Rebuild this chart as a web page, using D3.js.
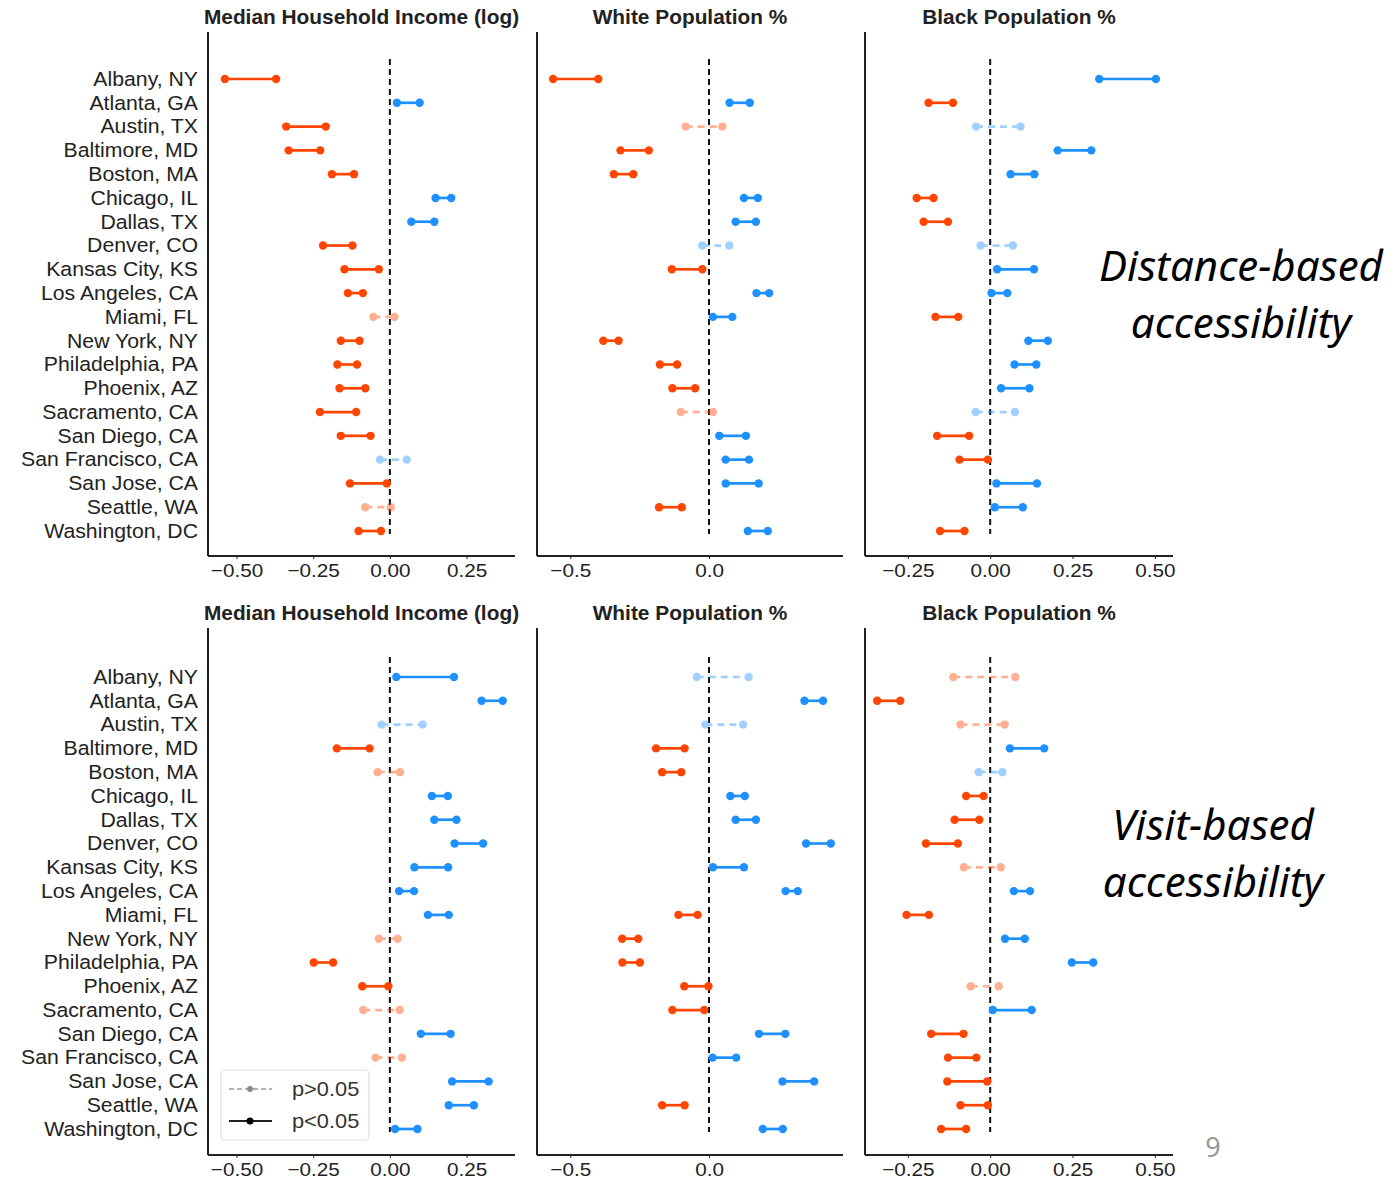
<!DOCTYPE html>
<html>
<head>
<meta charset="utf-8">
<script src="https://d3js.org/d3.v7.min.js"></script>
<style>
body { margin: 0; background: #fff; }
text { font-family: "Liberation Sans", Arial, sans-serif; }
</style>
</head>
<body>
<script>
// cities, top to bottom
var cities = ["Albany, NY", "Atlanta, GA", "Austin, TX", "Baltimore, MD", "Boston, MA",
  "Chicago, IL", "Dallas, TX", "Denver, CO", "Kansas City, KS", "Los Angeles, CA",
  "Miami, FL", "New York, NY", "Philadelphia, PA", "Phoenix, AZ", "Sacramento, CA",
  "San Diego, CA", "San Francisco, CA", "San Jose, CA", "Seattle, WA", "Washington, DC"];

var panelTitles = ["Median Household Income (log)", "White Population %", "Black Population %"];

// distance-based accessibility: interval low / high, significance (1 = p<0.05)
var distIncomeLo = [-0.538, 0.023, -0.338, -0.330, -0.189, 0.149, 0.070, -0.218, -0.148, -0.137, -0.054, -0.160, -0.171, -0.164, -0.228, -0.160, -0.032, -0.130, -0.080, -0.102];
var distIncomeHi = [-0.371, 0.097, -0.209, -0.227, -0.117, 0.200, 0.145, -0.122, -0.036, -0.088, 0.015, -0.099, -0.107, -0.080, -0.110, -0.063, 0.055, -0.010, 0.003, -0.029];
var distIncomeSig = [1,1,1,1,1,1,1,1,1,1,0,1,1,1,1,1,0,1,0,1];

var distWhiteLo = [-0.562, 0.074, -0.084, -0.319, -0.343, 0.126, 0.096, -0.024, -0.134, 0.171, 0.014, -0.381, -0.177, -0.132, -0.102, 0.037, 0.060, 0.060, -0.180, 0.140];
var distWhiteHi = [-0.399, 0.147, 0.048, -0.217, -0.273, 0.176, 0.169, 0.073, -0.024, 0.217, 0.084, -0.326, -0.115, -0.050, 0.014, 0.133, 0.144, 0.179, -0.098, 0.212];
var distWhiteSig = [1,1,0,1,1,1,1,0,1,1,1,1,1,1,0,1,1,1,1,1];

var distBlackLo = [0.331, -0.187, -0.043, 0.205, 0.062, -0.223, -0.202, -0.029, 0.021, 0.004, -0.166, 0.116, 0.074, 0.033, -0.044, -0.161, -0.093, 0.019, 0.014, -0.152];
var distBlackHi = [0.503, -0.113, 0.092, 0.307, 0.134, -0.172, -0.128, 0.069, 0.133, 0.052, -0.097, 0.175, 0.140, 0.119, 0.075, -0.064, -0.007, 0.142, 0.099, -0.078];
var distBlackSig = [1,1,0,1,1,1,1,0,1,1,1,1,1,1,0,1,1,1,1,1];

// visit-based accessibility
var visitIncomeLo = [0.021, 0.299, -0.027, -0.173, -0.040, 0.137, 0.145, 0.211, 0.080, 0.030, 0.124, -0.036, -0.248, -0.090, -0.087, 0.101, -0.047, 0.203, 0.192, 0.017];
var visitIncomeHi = [0.209, 0.368, 0.107, -0.066, 0.033, 0.189, 0.217, 0.304, 0.190, 0.079, 0.192, 0.025, -0.185, -0.005, 0.032, 0.198, 0.039, 0.322, 0.274, 0.090];
var visitIncomeSig = [1,1,0,1,0,1,1,1,1,1,1,0,1,1,0,1,0,1,1,1];

var visitWhiteLo = [-0.044, 0.344, -0.013, -0.191, -0.169, 0.077, 0.096, 0.350, 0.014, 0.276, -0.110, -0.313, -0.312, -0.089, -0.132, 0.180, 0.013, 0.265, -0.169, 0.194];
var visitWhiteHi = [0.143, 0.411, 0.123, -0.088, -0.100, 0.129, 0.169, 0.439, 0.126, 0.320, -0.041, -0.255, -0.249, -0.002, -0.017, 0.275, 0.098, 0.379, -0.088, 0.266];
var visitWhiteSig = [0,1,0,1,1,1,1,1,1,1,1,1,1,1,1,1,1,1,1,1];

var visitBlackLo = [-0.112, -0.343, -0.090, 0.060, -0.035, -0.073, -0.108, -0.195, -0.080, 0.072, -0.254, 0.045, 0.248, -0.059, 0.008, -0.179, -0.128, -0.130, -0.090, -0.149];
var visitBlackHi = [0.076, -0.273, 0.044, 0.164, 0.037, -0.020, -0.033, -0.098, 0.032, 0.121, -0.186, 0.105, 0.313, 0.026, 0.126, -0.081, -0.042, -0.009, -0.007, -0.073];
var visitBlackSig = [0,1,0,1,0,1,1,1,0,1,1,1,1,0,1,1,1,1,1,1];

// axis ticks per column
var ticksIncome = [-0.50, -0.25, 0.00, 0.25];
var ticksWhite = [-0.5, 0.0];
var ticksBlack = [-0.25, 0.00, 0.25, 0.50];

var width = 1399, height = 1181;
var red = "#ff4500", blue = "#1e90ff";
var sx = 1.09; // the slide stretches the figure a bit sideways

var svg = d3.select("body").append("svg")
  .attr("width", width)
  .attr("height", height);

// text placed with a horizontal stretch
function stext(parent, x, y, s) {
  return parent.append("text")
    .attr("transform", "translate(" + x + "," + y + ") scale(" + s + ",1)");
}

// column layout (x pixels) and value domains
var cols = [
  { x0: 208, x1: 515, domain: [-0.593, 0.408], ticks: ticksIncome, fmt: d3.format(".2f") },
  { x0: 537, x1: 843, domain: [-0.62, 0.483], ticks: ticksWhite, fmt: d3.format(".1f") },
  { x0: 865, x1: 1173, domain: [-0.38, 0.555], ticks: ticksBlack, fmt: d3.format(".2f") }
];
var rows = [
  { top: 32, bottom: 556, first: 79, last: 531,
    data: [[distIncomeLo, distIncomeHi, distIncomeSig], [distWhiteLo, distWhiteHi, distWhiteSig], [distBlackLo, distBlackHi, distBlackSig]] },
  { top: 628, bottom: 1155, first: 677, last: 1129,
    data: [[visitIncomeLo, visitIncomeHi, visitIncomeSig], [visitWhiteLo, visitWhiteHi, visitWhiteSig], [visitBlackLo, visitBlackHi, visitBlackSig]] }
];

rows.forEach(function(r) {
  var y = d3.scalePoint().domain(cities).range([r.first, r.last]);

  cols.forEach(function(c, ci) {
    var x = d3.scaleLinear().domain(c.domain).range([c.x0, c.x1]);
    var g = svg.append("g");
    var lo = r.data[ci][0], hi = r.data[ci][1], sig = r.data[ci][2];

    // title
    stext(g, (c.x0 + c.x1) / 2, r.top - 8, 1.07)
      .attr("text-anchor", "middle")
      .attr("font-size", 19.5)
      .attr("font-weight", "bold")
      .attr("fill", "#222")
      .text(panelTitles[ci]);

    // x axis
    var ax = g.append("g")
      .attr("transform", "translate(0," + r.bottom + ")")
      .call(d3.axisBottom(x).tickValues(c.ticks).tickFormat(c.fmt).tickSize(3).tickPadding(5));
    ax.select(".domain").remove();
    ax.selectAll("text").attr("font-size", 19).attr("fill", "#222")
      .attr("transform", "scale(" + sx + ",1)")
      .style("font-family", "'Liberation Sans', Arial, sans-serif");
    ax.selectAll("line").attr("stroke", "#222");

    // spines
    g.append("line").attr("x1", c.x0).attr("x2", c.x0).attr("y1", r.top).attr("y2", r.bottom)
      .attr("stroke", "#222").attr("stroke-width", 2);
    g.append("line").attr("x1", c.x0).attr("x2", c.x1).attr("y1", r.bottom).attr("y2", r.bottom)
      .attr("stroke", "#222").attr("stroke-width", 2);

    // zero line
    g.append("line")
      .attr("x1", x(0)).attr("x2", x(0))
      .attr("y1", r.first - 20).attr("y2", r.last + 3)
      .attr("stroke", "#111").attr("stroke-width", 2)
      .attr("stroke-dasharray", "6,4");

    // intervals
    var items = cities.map(function(name, i) {
      return { name: name, lo: lo[i], hi: hi[i], sig: sig[i] };
    });
    var seg = g.selectAll("g.seg").data(items).enter().append("g")
      .attr("class", "seg")
      .attr("opacity", function(d) { return d.sig ? 1 : 0.42; });
    function col(d) { return (d.lo + d.hi) / 2 < 0 ? red : blue; }
    seg.append("line")
      .attr("x1", function(d) { return x(d.lo); })
      .attr("x2", function(d) { return x(d.hi); })
      .attr("y1", function(d) { return y(d.name); })
      .attr("y2", function(d) { return y(d.name); })
      .attr("stroke", col)
      .attr("stroke-width", 2.7)
      .attr("stroke-dasharray", function(d) { return d.sig ? null : "7,5"; });
    seg.selectAll("circle")
      .data(function(d) { return [[d.lo, d], [d.hi, d]]; })
      .enter().append("circle")
      .attr("cx", function(p) { return x(p[0]); })
      .attr("cy", function(p) { return y(p[1].name); })
      .attr("r", 4.2)
      .attr("fill", function(p) { return col(p[1]); });

    // city labels on first column
    if (ci === 0) {
      cities.forEach(function(name) {
        stext(g, c.x0 - 10, y(name), sx)
          .attr("dy", "0.35em")
          .attr("text-anchor", "end")
          .attr("font-size", 19.5)
          .attr("fill", "#222")
          .text(name);
      });
    }
  });
});

// legend
var lg = svg.append("g");
lg.append("rect").attr("x", 221).attr("y", 1070).attr("width", 148).attr("height", 70)
  .attr("rx", 4).attr("fill", "#fff").attr("stroke", "#ddd").attr("stroke-width", 1.2);
lg.append("line").attr("x1", 229).attr("x2", 272).attr("y1", 1089).attr("y2", 1089)
  .attr("stroke", "#999").attr("stroke-width", 1.5).attr("stroke-dasharray", "5,3");
lg.append("circle").attr("cx", 250).attr("cy", 1089).attr("r", 3).attr("fill", "#888");
stext(lg, 292, 1089, sx).attr("dy", "0.35em")
  .attr("font-size", 20).attr("fill", "#333").text("p>0.05");
lg.append("line").attr("x1", 229).attr("x2", 272).attr("y1", 1121).attr("y2", 1121)
  .attr("stroke", "#222").attr("stroke-width", 2);
lg.append("circle").attr("cx", 250).attr("cy", 1121).attr("r", 3.5).attr("fill", "#000");
stext(lg, 292, 1121, sx).attr("dy", "0.35em")
  .attr("font-size", 20).attr("fill", "#333").text("p<0.05");

// side annotations
function note(lines, cx, y0) {
  lines.forEach(function(t, i) {
    svg.append("text")
      .attr("x", cx).attr("y", y0 + i * 57)
      .attr("text-anchor", "middle")
      .attr("font-size", 42)
      .attr("font-style", "italic")
      .style("font-family", "'Noto Sans', 'Open Sans', sans-serif")
      .attr("fill", "#000")
      .text(t);
  });
}
note(["Distance-based", "accessibility"], 1241, 281);
note(["Visit-based", "accessibility"], 1213, 840);

svg.append("text").attr("x", 1213).attr("y", 1157).attr("text-anchor", "middle")
  .attr("font-size", 27).attr("fill", "#999")
  .style("font-family", "'Noto Sans', sans-serif").text("9");
</script>
</body>
</html>
